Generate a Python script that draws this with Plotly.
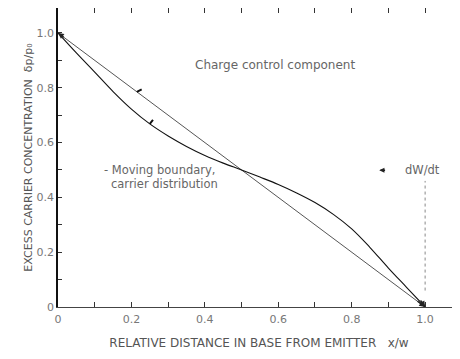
import plotly.graph_objects as go

# Data
line_x = [0.0, 1.0]
line_y = [1.0, 0.0]

curve_x = [0.0, 0.05, 0.1, 0.15, 0.2, 0.25, 0.3, 0.35, 0.4, 0.45, 0.5,
           0.55, 0.6, 0.65, 0.7, 0.75, 0.8, 0.85, 0.9, 0.95, 1.0]
curve_y = [1.0, 0.927, 0.857, 0.786, 0.722, 0.668, 0.624, 0.586, 0.553, 0.525, 0.5,
           0.474, 0.447, 0.416, 0.381, 0.338, 0.285, 0.217, 0.142, 0.071, 0.0]

x_tickvals = [0, 0.1, 0.2, 0.3, 0.4, 0.5, 0.6, 0.7, 0.8, 0.9, 1.0]
x_ticktext = ["0", "", "0.2", "", "0.4", "", "0.6", "", "0.8", "", "1.0"]
y_tickvals = [0, 0.1, 0.2, 0.3, 0.4, 0.5, 0.6, 0.7, 0.8, 0.9, 1.0]
y_ticktext = ["0", "", "0.2", "", "0.4", "", "0.6", "", "0.8", "", "1.0"]

FONT = "DejaVu Sans, Liberation Sans, sans-serif"
TXT = "#666666"

fig = go.Figure()
fig.add_trace(go.Scatter(x=line_x, y=line_y, mode="lines",
                         line=dict(color="#555555", width=1), showlegend=False))
fig.add_trace(go.Scatter(x=curve_x, y=curve_y, mode="lines",
                         line=dict(color="#111111", width=1.1, shape="spline", smoothing=1),
                         showlegend=False))

annotations = [
    dict(x=0.59, y=0.882, text="Charge control component", showarrow=False,
         font=dict(size=12, color=TXT), xanchor="center"),
    dict(x=0.12, y=0.499, text="- Moving boundary,", showarrow=False,
         font=dict(size=11.5, color=TXT), xanchor="left"),
    dict(x=0.14, y=0.447, text="carrier distribution", showarrow=False,
         font=dict(size=11.5, color=TXT), xanchor="left"),
    dict(x=0.94, y=0.499, text="dW/dt", showarrow=False,
         font=dict(size=11.5, color=TXT), xanchor="left"),
    # small left arrow before dW/dt
    dict(x=0.875, y=0.499, ax=0.895, ay=0.499, axref="x", ayref="y", text="",
         showarrow=True, arrowhead=2, arrowsize=0.8, arrowwidth=1.3, arrowcolor="#222"),
    # arrowheads at curve ends
    dict(x=1.0, y=0.0, ax=0.975, ay=0.025, axref="x", ayref="y", text="", showarrow=True,
         arrowhead=2, arrowsize=0.9, arrowwidth=1.3, arrowcolor="#222", standoff=0),
    dict(x=1.0, y=0.0, ax=0.985, ay=0.03, axref="x", ayref="y", text="", showarrow=True,
         arrowhead=2, arrowsize=0.9, arrowwidth=1.3, arrowcolor="#222", standoff=0),
    dict(x=0.0, y=1.0, ax=0.02, ay=0.98, axref="x", ayref="y", text="", showarrow=True,
         arrowhead=2, arrowsize=0.9, arrowwidth=1.3, arrowcolor="#222", standoff=0),
    # small marks on curves
    dict(x=0.215, y=0.785, ax=0.232, ay=0.797, axref="x", ayref="y", text="", showarrow=True,
         arrowhead=0, arrowwidth=2, arrowcolor="#111"),
    dict(x=0.25, y=0.668, ax=0.262, ay=0.688, axref="x", ayref="y", text="", showarrow=True,
         arrowhead=0, arrowwidth=2, arrowcolor="#111"),
]

shapes = [
    dict(type="line", x0=1.0, x1=1.0, y0=0.06, y1=0.46, xref="x", yref="y",
         line=dict(color="#888888", width=1, dash="dot")),
]

fig.update_layout(
    width=452, height=351,
    margin=dict(l=50, r=0, t=0, b=52),
    paper_bgcolor="white", plot_bgcolor="white",
    font=dict(family=FONT, size=11, color=TXT),
    annotations=annotations, shapes=shapes,
    xaxis=dict(range=[0, 1.095], tickvals=x_tickvals, ticktext=x_ticktext,
               ticks="inside", ticklen=5, tickcolor="#333", showgrid=False, zeroline=False,
               showline=True, linecolor="#444", linewidth=1, mirror="ticks",
               tickfont=dict(size=11, color="#777"), ticklabelstandoff=2,
               title=dict(text="RELATIVE DISTANCE IN BASE FROM EMITTER   x/w",
                          font=dict(size=12, color="#555"), standoff=13)),
    yaxis=dict(range=[0, 1.091], tickvals=y_tickvals, ticktext=y_ticktext,
               ticks="inside", ticklen=4, tickcolor="#333", showgrid=False, zeroline=False,
               showline=True, linecolor="#111", linewidth=1.5,
               tickfont=dict(size=11, color="#777"),
               title=dict(text="EXCESS CARRIER CONCENTRATION  \u03b4p/p\u2080",
                          font=dict(size=11, color="#555"), standoff=2)),
)

fig.write_html("out.html")
